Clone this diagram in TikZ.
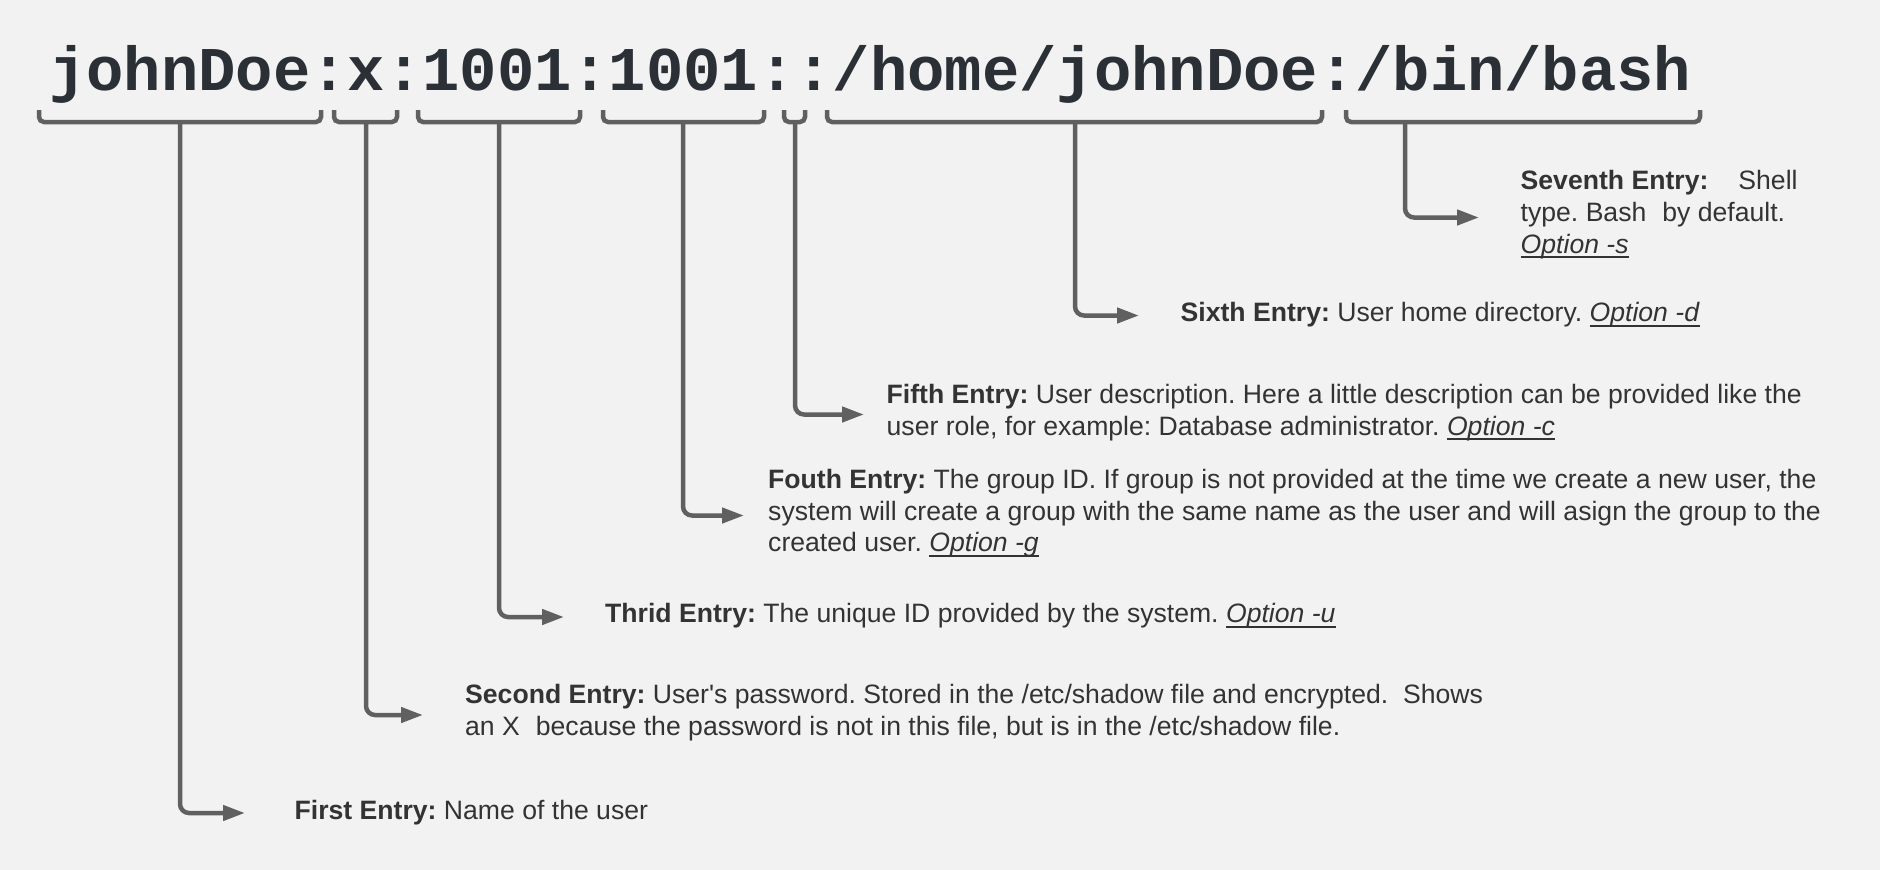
\documentclass[tikz,border=0pt]{standalone}
\usepackage{fontspec}
\setmainfont{Liberation Sans}[Ligatures=TeXOff]
\newfontfamily\passwdfont{Liberation Mono}
\usepackage{xcolor}
\usepackage{tikz}
\usetikzlibrary{arrows.meta,calc}

\definecolor{bgGray}{HTML}{F2F2F2}
\definecolor{lineGray}{HTML}{606060}
\definecolor{codeInk}{HTML}{2B2F36}
\definecolor{textInk}{HTML}{333333}

\newcommand{\optn}[1]{\setbox0\hbox{\textit{#1}}\rlap{\rule[-5pt]{\wd0}{2pt}}\box0}
\frenchspacing

\begin{document}
\begin{tikzpicture}[x=1pt, y=-1pt,
  brace/.style={lineGray, line width=4.5pt, rounded corners=5pt},
  link/.style={lineGray, line width=4.5pt, rounded corners=9pt, -{Triangle[length=22pt,width=15pt]}, to path={|- (\tikztotarget)}},
  entry/.style={anchor=base west, inner sep=0pt, align=left, text=textInk, font=\fontsize{26.6pt}{31.7pt}\selectfont}]

\fill[bgGray] (0,0) rectangle (1880,870);
\useasboundingbox (0,0) rectangle (1880,870);

\node[anchor=base west, inner sep=0pt, text=codeInk, font=\passwdfont\bfseries\fontsize{62.2pt}{70pt}\selectfont] (passwd) at (49,90) {johnDoe:x:1001:1001::/home/johnDoe:/bin/bash};

\foreach \l/\r/\s [count=\i] in {39/321/180, 334/397/366, 418/580/499, 603/764/683, 784/805/795, 827/1322/1075, 1346/1700/1405} {
  \draw[brace] (\l,110) -- (\l,122) -- (\r,122) -- (\r,110);
  \coordinate (s\i) at (\s,121);
}

\coordinate (a1) at (245,813);
\coordinate (a2) at (423,715);
\coordinate (a3) at (564,617);
\coordinate (a4) at (744,515.5);
\coordinate (a5) at (864,414.5);
\coordinate (a6) at (1139,315.5);
\coordinate (a7) at (1479,217.5);

\node[entry] (e1) at (294.5,819) {\textbf{First Entry:} Name of the user};
\node[entry] (e2) at (465,735) {\textbf{Second Entry:} User's password. Stored in the /etc/shadow file and encrypted.\ \ Shows\\an X\hspace{16pt}because the password is not in this file, but is in the /etc/shadow file.};
\node[entry] (e3) at (605,622.5) {\textbf{Thrid Entry:} The unique ID provided by the system. \optn{Option -u}};
\node[entry] (e4) at (768,551.7) {\textbf{Fouth Entry:} The group ID. If group is not provided at the time we create a new user, the\\system will create a group with the same name as the user and will asign the group to the\\created user. \optn{Option -g}};
\node[entry] (e5) at (886.5,435) {\textbf{Fifth Entry:} User description. Here a little description can be provided like the\\user role, for example: Database administrator. \optn{Option -c}};
\node[entry] (e6) at (1180.5,321.7) {\textbf{Sixth Entry:} User home directory. \optn{Option -d}};
\node[entry] (e7) at (1520.5,253) {\textbf{Seventh Entry:}\hspace{30pt}Shell\\type. Bash\hspace{16pt}by default.\\\optn{Option -s}};

\path(s1) edge[link] (a1);
\path(s2) edge[link] (a2);
\path(s3) edge[link] (a3);
\path(s4) edge[link] (a4);
\path(s5) edge[link] (a5);
\path(s6) edge[link] (a6);
\path(s7) edge[link] (a7);

\end{tikzpicture}
\end{document}
